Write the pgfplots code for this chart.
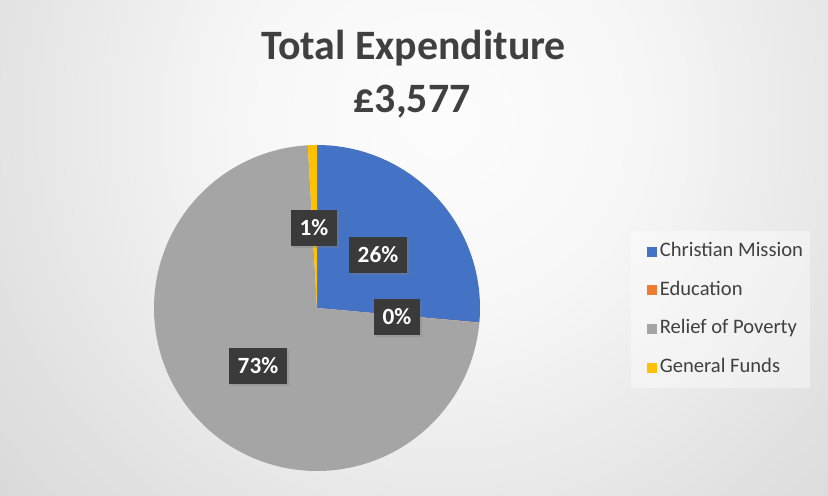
\documentclass[border=0pt]{standalone}
\usepackage{pgfplots}
\pgfplotsset{compat=1.18}
\usepackage{fontspec}
\setmainfont{Carlito}
\usetikzlibrary{shadows}

\definecolor{cmblue}{HTML}{4472C4}
\definecolor{edorange}{HTML}{ED7D31}
\definecolor{rpgray}{HTML}{A5A5A5}
\definecolor{gfyellow}{HTML}{FFC000}
\definecolor{titlegray}{HTML}{404040}
\definecolor{labelbox}{HTML}{3A3A3A}

\pgfdeclareradialshading{bgshade}{\pgfpoint{0bp}{0bp}}{%
  color(0bp)=(black!1); color(8bp)=(black!3); color(20bp)=(black!12);
  color(34bp)=(black!21); color(48bp)=(black!26); color(50bp)=(black!27)}

% expenditure in pounds (total 3577)
\def\vCM{945}
\def\vED{1}
\def\vRP{2599}
\def\vGF{32}
\pgfmathsetmacro\total{\vCM+\vED+\vRP+\vGF}
\pgfmathsetmacro\aA{360*(\vCM/\total)}
\pgfmathsetmacro\aB{\aA+360*(\vED/\total)}
\pgfmathsetmacro\aC{\aB+360*(\vRP/\total)}

\begin{document}
\begin{tikzpicture}
\useasboundingbox (0,0) rectangle (621bp,372bp);
\begin{scope}
  \clip (0,0) rectangle (621bp,372bp);
  \shade[shading=bgshade] (-120bp,-168bp) rectangle (780bp,732bp);
\end{scope}
\begin{axis}[
  at={(0,0)}, anchor=south west,
  scale only axis, width=621bp, height=372bp,
  xmin=0, xmax=828, ymin=0, ymax=496,
  hide axis, clip=false,
  legend style={at={(0.762,0.534)}, anchor=north west,
    draw=none, fill=white, fill opacity=0.4, text opacity=1,
    font=\fontsize{15.5}{17}\selectfont, text=titlegray,
    inner xsep=3bp, inner ysep=7bp, row sep=13bp,
    nodes={text height=9.5bp, text depth=2.7bp, inner sep=2bp}},
  legend cell align=left,
  legend image code/.code={\path (0bp,0bp);
    \fill[#1, fill opacity=1] (9bp,-3.75bp) rectangle (16.5bp,3.75bp);},
]
\addplot[fill=cmblue, draw=none, domain=0:\aA, samples=90]
  ({317+163*sin(x)}, {188+163*cos(x)}) -- (317,188) -- cycle;
\addplot[fill=edorange, draw=none, domain=\aA:\aB, samples=2]
  ({317+163*sin(x)}, {188+163*cos(x)}) -- (317,188) -- cycle;
\addplot[fill=rpgray, draw=none, domain=\aB:\aC, samples=200]
  ({317+163*sin(x)}, {188+163*cos(x)}) -- (317,188) -- cycle;
\addplot[fill=gfyellow, draw=none, domain=\aC:360, samples=4]
  ({317+163*sin(x)}, {188+163*cos(x)}) -- (317,188) -- cycle;
\legend{Christian Mission, Education, Relief of Poverty, General Funds}

\tikzset{lbl/.style={fill=labelbox, text=white,
  font=\fontsize{17.5}{19}\selectfont\bfseries,
  minimum height=27bp, inner xsep=6.5bp,
  drop shadow={shadow xshift=1.5bp, shadow yshift=-1.5bp, opacity=0.35}}}
\node[lbl] at (314,268) {1\%};
\node[lbl] at (378,241) {26\%};
\node[lbl] at (397,179) {0\%};
\node[lbl] at (258,130) {73\%};

\node[anchor=base, text=titlegray, font=\fontsize{31.5}{34}\selectfont\bfseries]
  at (413.5,436) {Total Expenditure};
\node[anchor=base, text=titlegray, font=\fontsize{31.5}{34}\selectfont\bfseries]
  at (412,383) {£3,577};
\end{axis}
\end{tikzpicture}
\end{document}
